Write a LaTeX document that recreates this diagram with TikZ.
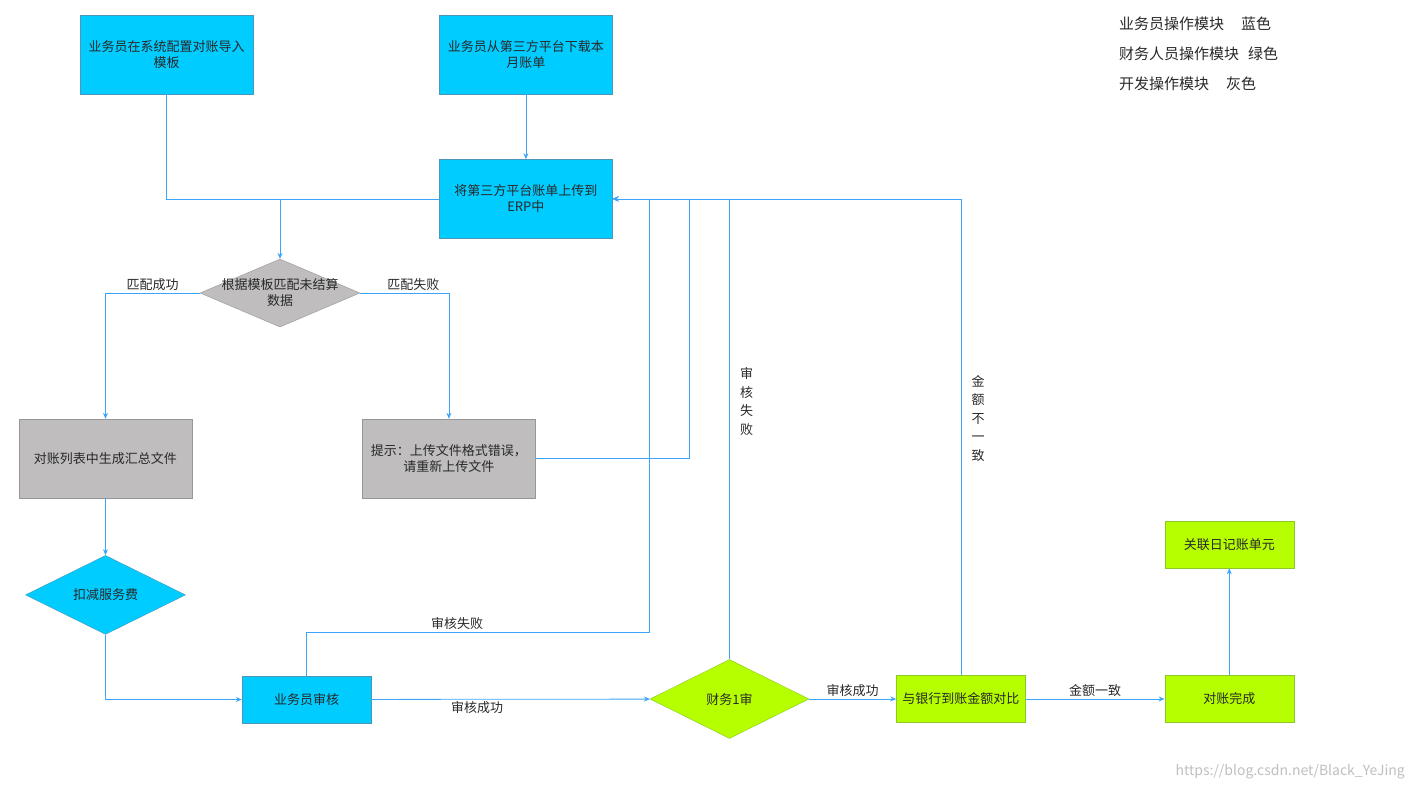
\documentclass[tikz,border=0pt]{standalone}
\usepackage{fontspec}
\setmainfont{Noto Sans CJK SC}
\usetikzlibrary{arrows.meta,positioning,shapes.geometric}
\definecolor{OpBlue}{RGB}{0,204,255}
\definecolor{OpGreen}{RGB}{182,255,0}
\definecolor{OpGray}{RGB}{191,189,189}
\definecolor{EdgeBlue}{RGB}{75,150,185}
\definecolor{EdgeGreen}{RGB}{140,200,40}
\definecolor{EdgeGray}{RGB}{150,150,150}
\definecolor{FlowBlue}{RGB}{60,165,250}
\definecolor{TextDark}{RGB}{40,40,40}

\begin{document}
\begin{tikzpicture}[x=1pt, y=-1pt,
    box/.style={draw, rectangle, align=center, inner sep=2pt, font=\fontsize{13}{16}\selectfont, text=TextDark},
    bigbox/.style={box, minimum width=173pt, minimum height=79pt},
    smallbox/.style={box, minimum width=129pt, minimum height=47pt},
    blue/.style={fill=OpBlue, draw=EdgeBlue},
    green/.style={fill=OpGreen, draw=EdgeGreen},
    gray/.style={fill=OpGray, draw=EdgeGray},
    dec/.style={diamond, draw, inner sep=0pt, minimum width=160pt, minimum height=79pt},
    dectext/.style={font=\fontsize{13}{16}\selectfont, text=TextDark, align=center},
    arr/.style={-{Stealth[length=6pt, width=5pt]}, line width=0.8pt, FlowBlue},
    flow/.style={line width=0.8pt, FlowBlue},
    lbl/.style={font=\fontsize{13}{16}\selectfont, text=TextDark, inner sep=2pt},
    vlbl/.style={font=\fontsize{13}{18.5}\selectfont, text=TextDark, align=center, xshift=7pt},
    legend/.style={anchor=west, font=\fontsize{15}{18}\selectfont, text=TextDark, inner sep=0pt}
  ]
    \useasboundingbox (0,0) rectangle (1414,790);

    % Upload part
    \node[bigbox, blue] (tpl) at (166.5,54.5) {业务员在系统配置对账导入\\模板};
    \node[bigbox, blue, right=186pt of tpl] (dl) {业务员从第三方平台下载本\\月账单};
    \node[bigbox, blue, below=65pt of dl] (up) {将第三方平台账单上传到\\ERP中};
    \node[dec, fill=OpGray, draw=EdgeGray, minimum height=68pt,
      label={[dectext]center:根据模板匹配未结算\\数据}] (match) at (280,293) {};

    % Match result
    \node[bigbox, gray] (sum) at (105.5,458.5) {对账列表中生成汇总文件};
    \node[bigbox, gray, right=170pt of sum] (tip) {提示：上传文件格式错误，\\请重新上传文件};
    \node[dec, fill=OpBlue, draw=EdgeBlue, below=57pt of sum,
      label={[dectext]center:扣减服务费}] (fee) {};

    % Review chain
    \node[smallbox, blue] (rev) at (306.5,699.5) {业务员审核};
    \node[dec, fill=OpGreen, draw=EdgeGreen, minimum width=159pt,
      label={[dectext]center:财务1审}] (fin) at (729.5,699) {};
    \node[smallbox, green, right=87pt of fin] (cmp) {与银行到账金额对比};
    \node[smallbox, green, right=139pt of cmp] (done) {对账完成};
    \node[smallbox, green, above=107pt of done] (link) {关联日记账单元};

    % Legend
    \node[legend] (lg1) at (1119,24) {业务员操作模块\hspace{17pt}蓝色};
    \node[legend] (lg2) at (1119,54) {财务人员操作模块\hspace{9pt}绿色};
    \node[legend] (lg3) at (1119,84) {开发操作模块\hspace{17pt}灰色};
    \node[anchor=east, font=\fontsize{14}{16}\selectfont, text=black!25, inner sep=0pt] (mark) at (1405,772) {https://blog.csdn.net/Black\_YeJing};

    % Connectors
    \coordinate (jn) at (match.north |- up.west);
    \draw[flow] (tpl.south) |- (jn);
    \draw[arr] (up.west) -| (match.north);
    \draw[arr] (dl) -- (up);
    \draw[arr] (match.west) -| node[lbl, above, pos=0.25] {匹配成功} (sum.north);
    \draw[arr] (match.east) -| node[lbl, above, pos=0.3] {匹配失败} (tip.north);
    \draw[arr] (tip.east) -- ++(154,0) |- (up.east);
    \draw[arr] (sum) -- (fee);
    \draw[arr] (fee.south) |- (rev.west);
    \draw[arr] (rev) -- node[lbl, below, pos=0.38] {审核成功} (fin);
    \coordinate (back) at (649,632);
    \draw[arr] (rev.north) |- node[lbl, above, pos=0.72] {审核失败} (back) |- (up.east);
    \draw[arr] (fin.north) |- node[vlbl, right, pos=0.28] {审\\核\\失\\败} (up.east);
    \draw[arr] (fin) -- node[lbl, above] {审核成功} (cmp);
    \draw[arr] (cmp.north) |- node[vlbl, right, pos=0.27] {金\\额\\不\\一\\致} (up.east);
    \draw[arr] (cmp) -- node[lbl, above] {金额一致} (done);
    \draw[arr] (done) -- (link);
\end{tikzpicture}
\end{document}
